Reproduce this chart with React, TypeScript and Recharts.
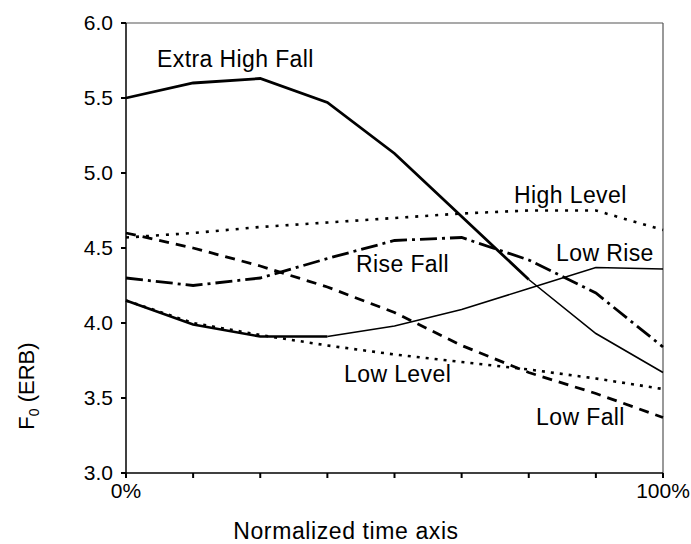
import React from 'react';
import { LineChart, Line, XAxis, YAxis, ReferenceLine, Customized } from 'recharts';

const timePoints = [0, 12.5, 25, 37.5, 50, 62.5, 75, 87.5, 100];
const extraHighFall = [5.5, 5.6, 5.63, 5.47, 5.13, 4.71, 4.29, 3.93, 3.67];
const highLevel = [4.57, 4.6, 4.64, 4.67, 4.7, 4.73, 4.75, 4.75, 4.62];
const riseFall = [4.3, 4.25, 4.3, 4.43, 4.55, 4.57, 4.42, 4.2, 3.84];
const lowRise = [4.15, 3.99, 3.91, 3.91, 3.98, 4.09, 4.23, 4.37, 4.36];
const lowLevel = [4.15, 4.0, 3.92, 3.85, 3.79, 3.74, 3.69, 3.63, 3.56];
const lowFall = [4.6, 4.5, 4.38, 4.24, 4.07, 3.85, 3.67, 3.53, 3.37];
const yTicks = [3.0, 3.5, 4.0, 4.5, 5.0, 5.5, 6.0];
const xTickLabels: Record<number, string> = { 0: '0%', 100: '100%' };

const seg = (arr: number[], i: number, from: number, to: number) =>
  i >= from && i <= to ? arr[i] : null;

const data = timePoints.map((t, i) => ({
  t,
  ehfA: seg(extraHighFall, i, 0, 6),
  ehfB: seg(extraHighFall, i, 6, 8),
  highLevel: highLevel[i],
  riseFall: riseFall[i],
  lowRiseA: seg(lowRise, i, 0, 3),
  lowRiseB: seg(lowRise, i, 3, 8),
  lowLevel: lowLevel[i],
  lowFall: lowFall[i],
}));

const FONT = "Arial, 'Liberation Sans', sans-serif";

const annotations = [
  { text: 'Extra High Fall', x: 157, y: 67 },
  { text: 'High Level', x: 514, y: 203 },
  { text: 'Low Rise', x: 556, y: 261 },
  { text: 'Rise Fall', x: 356, y: 272 },
  { text: 'Low Level', x: 344, y: 382 },
  { text: 'Low Fall', x: 536, y: 425 },
];

const Labels = () => (
  <g>
    {annotations.map((a) => (
      <text key={a.text} x={a.x} y={a.y} fontFamily={FONT} fontSize={23} letterSpacing={0.4} fill="#000">
        {a.text}
      </text>
    ))}
    <text x={346} y={539} textAnchor="middle" fontFamily={FONT} fontSize={23} letterSpacing={0.6} fill="#000">
      Normalized time axis
    </text>
    <text
      x={0}
      y={0}
      transform="translate(34,386) rotate(-90)"
      textAnchor="middle"
      fontFamily={FONT}
      fontSize={22}
      fill="#000"
    >
      F<tspan fontSize={14} dy={5}>0</tspan>
      <tspan dy={-5}> (ERB)</tspan>
    </text>
  </g>
);

export default function App() {
  const common = { isAnimationActive: false, dot: false, activeDot: false, stroke: '#000', type: 'linear' as const };
  return (
    <div style={{ position: 'absolute', left: 0, top: 0, width: 691, height: 544, background: '#fff', overflow: 'hidden' }}>
      <style>{'html,body{margin:0;padding:0;overflow:hidden;}'}</style>
      <LineChart width={691} height={544} data={data} margin={{ top: 23, right: 28, left: 0, bottom: 0 }} style={{ overflow: 'visible' }}>
        <XAxis
          dataKey="t"
          type="number"
          domain={[0, 100]}
          ticks={timePoints}
          tickFormatter={(v: number) => xTickLabels[v] ?? ''}
          height={71}
          tickSize={5}
          tickMargin={5}
          axisLine={{ stroke: '#000', strokeWidth: 1.5 }}
          tickLine={{ stroke: '#000', strokeWidth: 2 }}
          tick={{ fill: '#000', fontSize: 21, fontFamily: FONT }}
          interval={0}
        />
        <YAxis
          type="number"
          domain={[3, 6]}
          ticks={yTicks}
          tickFormatter={(v: number) => v.toFixed(1)}
          width={126}
          tickSize={5}
          tickMargin={8}
          axisLine={{ stroke: '#000', strokeWidth: 1.5 }}
          tickLine={{ stroke: '#000', strokeWidth: 2 }}
          tick={{ fill: '#000', fontSize: 21, fontFamily: FONT }}
          interval={0}
        />
        <ReferenceLine y={6} stroke="#555" strokeWidth={1.2} />
        <ReferenceLine x={100} stroke="#555" strokeWidth={1.2} />
        <Line {...common} dataKey="highLevel" strokeWidth={2.6} strokeDasharray="3 7" />
        <Line {...common} dataKey="lowLevel" strokeWidth={2.6} strokeDasharray="3 6" />
        <Line {...common} dataKey="lowFall" strokeWidth={2.8} strokeDasharray="10 7" />
        <Line {...common} dataKey="riseFall" strokeWidth={2.8} strokeDasharray="17 5 3 5" />
        <Line {...common} dataKey="lowRiseA" strokeWidth={2.6} />
        <Line {...common} dataKey="lowRiseB" strokeWidth={1.6} />
        <Line {...common} dataKey="ehfA" strokeWidth={2.8} />
        <Line {...common} dataKey="ehfB" strokeWidth={1.6} />
        <Customized component={Labels} />
      </LineChart>
    </div>
  );
}
